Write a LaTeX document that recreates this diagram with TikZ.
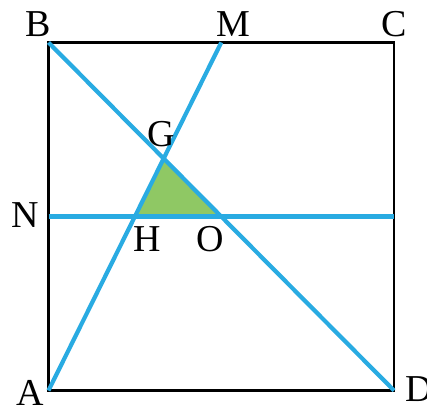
\documentclass[tikz,border=0pt]{standalone}
\usepackage{fontspec}
\setmainfont{Liberation Serif}
\usetikzlibrary{calc}
\definecolor{lineblue}{RGB}{41,171,226}
\definecolor{fillgreen}{RGB}{143,200,100}
\begin{document}
\begin{tikzpicture}[x=1pt,y=-1pt,
  sq/.style={draw=black,line width=2.4pt},
  bl/.style={draw=lineblue,line width=4.2pt},
  lbl/.style={inner sep=0pt,font=\fontsize{38}{38}\selectfont}]
\useasboundingbox (0,0) rectangle (427,407);
\coordinate (A) at (48.5,390.5);
\coordinate (B) at (48.5,42.5);
\coordinate (C) at (394,42.5);
\coordinate (D) at (394,390.5);
\coordinate (M) at ($(B)!0.5!(C)$);
\coordinate (N) at ($(A)!0.5!(B)$);
\coordinate (E) at ($(D)!0.5!(C)$);
\coordinate (O) at ($(B)!0.5!(D)$);
\coordinate (G) at ($(A)!2/3!(M)$);
\coordinate (H) at ($(A)!0.5!(M)$);
\fill[fillgreen] (G) -- (H) -- (O) -- cycle;
\draw[sq] (A) -- (B) -- (C) -- (D) -- cycle;
\draw[bl] (B) -- (D);
\draw[bl] (A) -- (M);
\draw[bl] (N) -- (E);
\node[lbl] (lB) at (38.5,24.5) {B};
\node[lbl] (lM) at (233.5,24.5) {M};
\node[lbl] (lC) at (394,24.5) {C};
\node[lbl] (lA) at (30,393) {A};
\node[lbl] (lD) at (419,389) {D};
\node[lbl] (lN) at (25,215) {N};
\node[lbl] (lG) at (161,134) {G};
\node[lbl] (lH) at (147,239) {H};
\node[lbl] (lO) at (210,239) {O};
\end{tikzpicture}
\end{document}
